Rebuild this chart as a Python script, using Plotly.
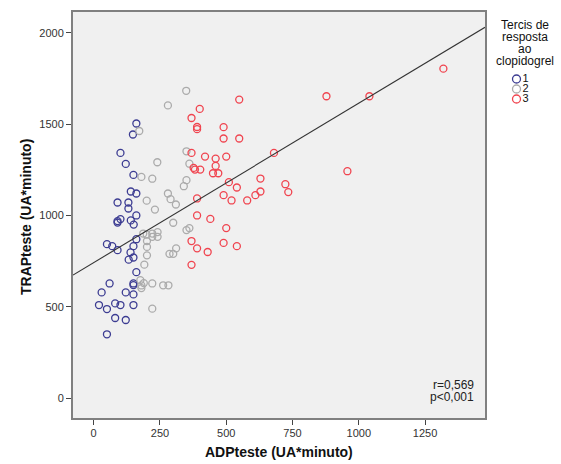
import plotly.graph_objects as go

# ---- data ----
g1_x = [161, 148, 101, 121, 150, 140, 161, 90, 131, 131, 161, 101, 90, 90, 140, 151, 161, 50, 70, 90,
        150, 139, 150, 132, 161, 60, 150, 150, 30, 121, 150, 20, 50, 81, 101, 150, 81, 121, 50]
g1_y = [1503, 1443, 1342, 1282, 1222, 1131, 1120, 1071, 1071, 1038, 1000, 980, 969, 961, 973, 950, 870,
        843, 832, 810, 832, 798, 770, 758, 690, 628, 628, 619, 579, 579, 568, 510, 488, 519, 510, 510,
        439, 428, 350]

g2_x = [349, 280, 172, 350, 240, 361, 180, 221, 350, 340, 280, 290, 310, 200, 231, 300, 350, 361, 187,
        221, 241, 241, 221, 200, 201, 201, 311, 286, 300, 201, 191, 176, 189, 180, 221, 262, 282, 221, 180]
g2_y = [1682, 1602, 1462, 1351, 1291, 1283, 1211, 1201, 1193, 1160, 1120, 1089, 1060, 1081, 1032, 960,
        920, 931, 901, 901, 909, 883, 883, 895, 860, 828, 820, 790, 790, 782, 731, 646, 630, 603, 628,
        618, 618, 490, 617]

g3_x = [1319, 878, 1040, 549, 400, 369, 390, 390, 490, 490, 549, 680, 369, 420, 460, 500, 460, 377, 382,
        402, 450, 470, 510, 629, 540, 723, 734, 957, 490, 520, 579, 610, 629, 390, 390, 440, 500, 369,
        390, 430, 490, 540, 369]
g3_y = [1803, 1652, 1652, 1634, 1583, 1533, 1484, 1472, 1483, 1421, 1421, 1342, 1342, 1322, 1311, 1322,
        1271, 1260, 1251, 1251, 1231, 1231, 1182, 1202, 1153, 1171, 1128, 1242, 1111, 1082, 1082, 1111,
        1131, 1093, 1000, 981, 931, 860, 820, 800, 850, 832, 730]

groups = ["1", "2", "3"]
colors = ["#3c3c92", "#ababab", "#f0444f"]

fit_intercept = 742
fit_slope = 0.872

x_range = [-78, 1476]
y_range = [-108, 2113]
x_ticks = [0, 250, 500, 750, 1000, 1250]
y_ticks = [0, 500, 1000, 1500, 2000]

stats_lines = ["r=0,569", "p<0,001"]
legend_title_lines = ["Tercis de", "resposta", "ao", "clopidogrel"]
x_title = "ADPteste (UA*minuto)"
y_title = "TRAPteste (UA*minuto)"

# ---- layout geometry (pixels) ----
W, H = 561, 464
L, T, B = 73, 12, 46
PW = W - L            # paper width (right margin 0)
PH = H - T - B
plot_right = 485
dom_x = (plot_right - L) / PW


def px(p):
    return (p - L) / PW


def py(p):
    return (H - B - p) / PH


FONT = "Liberation Sans, Arial, sans-serif"

fig = go.Figure()

data = [(g1_x, g1_y), (g2_x, g2_y), (g3_x, g3_y)]
for (xs, ys), name, c in zip(data, groups, colors):
    fig.add_trace(go.Scatter(
        x=xs, y=ys, mode="markers", name=name, showlegend=False,
        marker=dict(symbol="circle-open", size=7, color=c, line=dict(width=1.3, color=c)),
        xaxis="x", yaxis="y"))

# fit line across the x range
fig.add_trace(go.Scatter(
    x=x_range, y=[fit_intercept + fit_slope * v for v in x_range], mode="lines",
    line=dict(color="#333333", width=1.1), showlegend=False, hoverinfo="skip"))

# legend drawn on a small side axis
leg_x0_px = 497
leg_item_x = 516.5
leg_top, leg_bot = 74, 104
fig.add_trace(go.Scatter(
    x=[0, 0, 0], y=[0, 1, 2], mode="markers+text", text=groups, textposition="middle right",
    textfont=dict(family=FONT, size=11, color="#111111"),
    marker=dict(symbol="circle-open", size=8, color=colors, line=dict(width=1.3, color=colors)),
    xaxis="x2", yaxis="y2", showlegend=False, hoverinfo="skip", cliponaxis=False))

axis_common = dict(ticks="outside", ticklen=5, tickcolor="#444444", tickwidth=1, showgrid=False,
                   zeroline=False, showline=True, linecolor="#808080", linewidth=2, mirror=True,
                   tickfont=dict(family=FONT, size=11, color="#333333"))

fig.update_layout(
    width=W, height=H,
    margin=dict(l=L, r=0, t=T, b=B),
    paper_bgcolor="white",
    plot_bgcolor="rgba(0,0,0,0)",
    font=dict(family=FONT, size=11, color="#222222"),
    xaxis=dict(domain=[0, dom_x], range=x_range, tickvals=x_ticks, ticklabelstandoff=-1, **axis_common),
    yaxis=dict(domain=[0, 1], range=y_range, tickvals=y_ticks, **axis_common),
    xaxis2=dict(domain=[px(leg_x0_px), 1], anchor="y2",
                range=[-(leg_item_x - leg_x0_px) / (W - leg_x0_px), (W - leg_item_x) / (W - leg_x0_px)],
                visible=False, fixedrange=True),
    yaxis2=dict(domain=[py(leg_bot), py(leg_top)], anchor="x2", range=[2.5, -0.5],
                visible=False, fixedrange=True),
    showlegend=False,
)

# plot-area background only for the main axes
fig.add_shape(type="rect", xref="x domain", yref="y domain", x0=0, x1=1, y0=0, y1=1,
              fillcolor="#f0f0f0", line=dict(width=0), layer="below")

fig.add_annotation(text="<b>" + x_title + "</b>", xref="paper", yref="paper",
                   x=px(279), y=py(452), xanchor="center", yanchor="middle", showarrow=False,
                   font=dict(family=FONT, size=14, color="#111111"))
fig.add_annotation(text="<b>" + y_title + "</b>", xref="paper", yref="paper",
                   x=px(26), y=py(217), xanchor="center", yanchor="middle", showarrow=False,
                   textangle=-90, font=dict(family=FONT, size=14, color="#111111"))
for line, ypix in zip(stats_lines, [384.5, 396.5]):
    fig.add_annotation(text=line, xref="paper", yref="paper", x=px(476), y=py(ypix),
                       xanchor="right", yanchor="middle", showarrow=False,
                       font=dict(family=FONT, size=12, color="#222222"))
for line, ypix in zip(legend_title_lines, [25, 37, 49, 61]):
    fig.add_annotation(text=line, xref="paper", yref="paper", x=px(525), y=py(ypix),
                       xanchor="center", yanchor="middle", showarrow=False,
                       font=dict(family=FONT, size=12, color="#111111"))

fig.write_html("out.html")
